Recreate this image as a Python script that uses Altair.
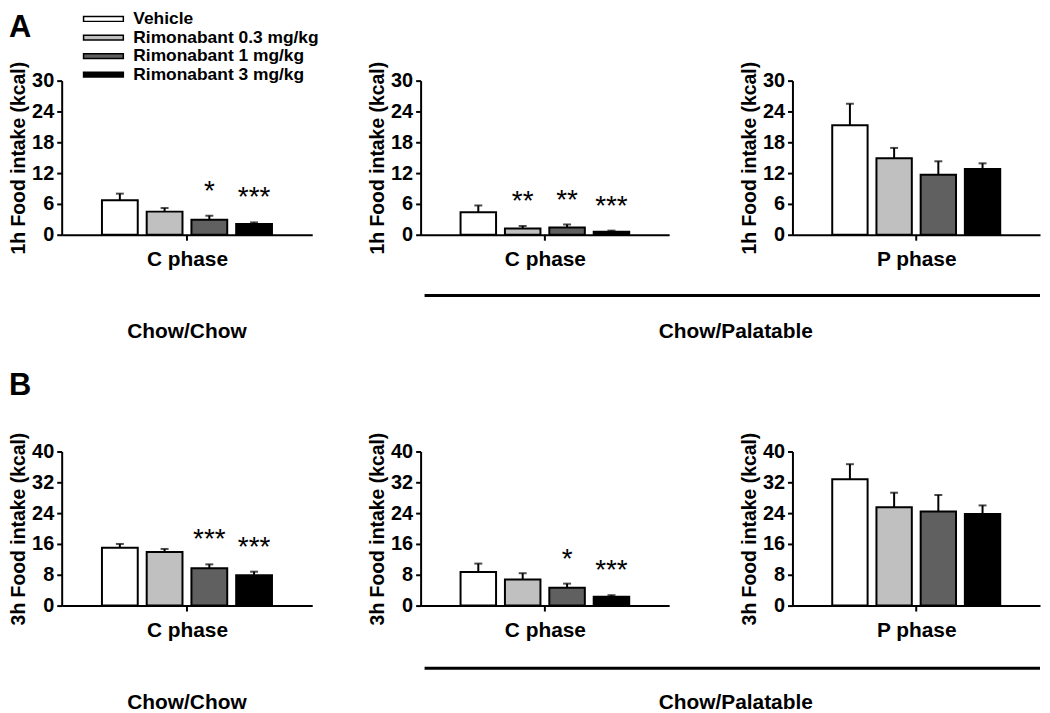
import altair as alt
import pandas as pd

doses = ["Vehicle", "Rimonabant 0.3 mg/kg", "Rimonabant 1 mg/kg", "Rimonabant 3 mg/kg"]
fills = ["#ffffff", "#c0c0c0", "#606060", "#000000"]

# Panel A (1 h intake, kcal)
a1_mean = [6.7, 4.5, 2.9, 2.1]
a1_sem = [1.3, 0.7, 0.8, 0.3]
a1_star = ["", "", "*", "***"]

a2_mean = [4.4, 1.2, 1.4, 0.6]
a2_sem = [1.3, 0.5, 0.6, 0.2]
a2_star = ["", "**", "**", "***"]

a3_mean = [21.3, 14.9, 11.7, 12.8]
a3_sem = [4.2, 2.0, 2.6, 1.1]
a3_star = ["", "", "", ""]

# Panel B (3 h intake, kcal)
b1_mean = [15.0, 13.9, 9.7, 7.9]
b1_sem = [1.0, 0.8, 1.0, 0.9]
b1_star = ["", "", "***", "***"]

b2_mean = [8.7, 6.8, 4.6, 2.3]
b2_sem = [2.2, 1.6, 1.1, 0.4]
b2_star = ["", "", "*", "***"]

b3_mean = [32.8, 25.5, 24.4, 23.8]
b3_sem = [3.9, 3.8, 4.3, 2.2]
b3_star = ["", "", "", ""]

H = 155
FONT = "Liberation Sans"

fill_scale = alt.Scale(domain=doses, range=fills)


def text_layer(label, x, y, size, weight="bold", align="center", baseline="middle"):
    return alt.Chart(pd.DataFrame({"label": [label]})).mark_text(
        fontSize=size, fontWeight=weight, align=align, baseline=baseline, color="black"
    ).encode(x=alt.value(x), y=alt.value(y), text="label:N")


def hline(x1, x2, y, w=3):
    return alt.Chart(pd.DataFrame({"k": [0]})).mark_rule(color="black", strokeWidth=w).encode(
        x=alt.value(x1), x2=alt.value(x2), y=alt.value(y)
    )


def vline(x, y1, y2, w=2):
    return alt.Chart(pd.DataFrame({"k": [0]})).mark_rule(color="black", strokeWidth=w).encode(
        x=alt.value(x), y=alt.value(y1), y2=alt.value(y2)
    )


def panel(mean, sem, stars, ymax, ystep, ytitle, xtitle, width, xrange_=None, extras=()):
    df = pd.DataFrame({
        "dose": doses,
        "mean": mean,
        "top": [m + s for m, s in zip(mean, sem)],
        "star": stars,
    })
    sargs = dict(domain=doses, paddingInner=0.2, paddingOuter=0.9)
    if xrange_ is not None:
        sargs["range"] = [0, xrange_]
        cx = xrange_ / 2
    else:
        cx = width / 2
    xs = alt.Scale(**sargs)
    xaxis = alt.Axis(title=xtitle, labels=False, ticks=False, domain=True,
                     domainWidth=2, domainColor="black", titleFontSize=21,
                     titleFontWeight="bold", titlePadding=14, titleColor="black")
    ys = alt.Scale(domain=[0, ymax], nice=False)
    yaxis = alt.Axis(title=ytitle, values=list(range(0, ymax + 1, ystep)), grid=False,
                     domainWidth=2, domainColor="black", tickColor="black", tickWidth=2,
                     tickSize=5, labelFontSize=20, labelFontWeight="bold", labelColor="black",
                     labelPadding=3, titleFontSize=19.5, titleFontWeight="bold",
                     titleColor="black", titlePadding=3)
    x = alt.X("dose:N", scale=xs, sort=doses, axis=xaxis)
    base = alt.Chart(df)
    whisker = base.mark_rule(color="black", strokeWidth=2).encode(
        x=x, y=alt.Y("mean:Q", scale=ys, axis=yaxis), y2="top:Q")
    cap = base.mark_tick(color="black", thickness=2, size=8).encode(
        x=x, y=alt.Y("top:Q", scale=ys, axis=yaxis))
    bars = base.mark_bar(stroke="black", strokeWidth=2).encode(
        x=x, y=alt.Y("mean:Q", scale=ys, axis=yaxis),
        fill=alt.Fill("dose:N", scale=fill_scale, legend=None))
    star = base.mark_text(fontSize=28, fontWeight="normal", baseline="alphabetic",
                          dy=-16, color="black").encode(
        x=x, y=alt.Y("top:Q", scale=ys, axis=yaxis), text="star:N")
    ctick = vline(cx, H, H + 6)
    layers = [whisker, bars, cap, star, ctick] + list(extras)
    return alt.layer(*layers).properties(width=width, height=H)


def legend_layer():
    ldf = pd.DataFrame({"dose": doses})
    ly = alt.Y("dose:N", sort=doses, axis=None,
               scale=alt.Scale(type="point", domain=doses, range=[-62, -6], padding=0))
    sym = alt.Chart(ldf).mark_point(
        shape="M-1,-0.12H1V0.12H-1Z", size=1600, filled=True, opacity=1,
        stroke="black", strokeWidth=1.5
    ).encode(x=alt.value(42), y=ly, fill=alt.Fill("dose:N", scale=fill_scale, legend=None))
    txt = alt.Chart(ldf).mark_text(
        align="left", baseline="middle", fontSize=17.5, fontWeight="bold", color="black"
    ).encode(x=alt.value(72), y=ly, text="dose:N")
    return alt.layer(sym, txt)


W1, W2, W3 = 252, 265, 249
R2 = 250

ya = "1h Food intake (kcal)"
yb = "3h Food intake (kcal)"

A1 = panel(a1_mean, a1_sem, a1_star, 30, 6, ya, "C phase", W1,
           extras=[text_layer("A", -53, -53, 31, align="left"),
                   text_layer("Chow/Chow", 126, 253, 21)])
A1 = alt.layer(A1, legend_layer()).resolve_scale(y="independent")

A2 = panel(a2_mean, a2_sem, a2_star, 30, 6, ya, "C phase", W2, xrange_=R2,
           extras=[hline(4, 623, 216), text_layer("Chow/Palatable", 317, 253, 21)])
A3 = panel(a3_mean, a3_sem, a3_star, 30, 6, ya, "P phase", W3)

B1 = panel(b1_mean, b1_sem, b1_star, 40, 8, yb, "C phase", W1,
           extras=[text_layer("B", -53, -66, 31, align="left"),
                   text_layer("Chow/Chow", 126, 253, 21)])
B2 = panel(b2_mean, b2_sem, b2_star, 40, 8, yb, "C phase", W2, xrange_=R2,
           extras=[hline(4, 623, 218), text_layer("Chow/Palatable", 317, 253, 21)])
B3 = panel(b3_mean, b3_sem, b3_star, 40, 8, yb, "P phase", W3)

chart = alt.concat(
    A1, A2, A3, B1, B2, B3,
    columns=3,
    spacing={"row": 218, "column": 109},
    bounds="flush",
).properties(
    padding={"left": 0, "top": 0, "right": 0, "bottom": 0}
).configure(
    font=FONT
).configure_view(
    stroke=None
)

chart.save("out.html", embed_options={"renderer": "svg", "actions": False})
